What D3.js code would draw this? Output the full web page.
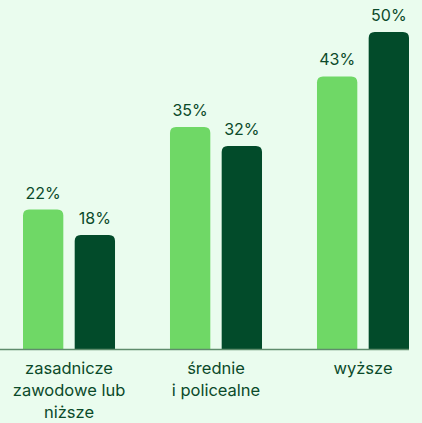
<!DOCTYPE html>
<html>
<head>
<meta charset="utf-8">
<script src="https://cdn.jsdelivr.net/npm/d3@7"></script>
<style>
  body { margin: 0; background: #eafcee; }
  svg { display: block; }
  text { font-family: Inter, 'Liberation Sans', sans-serif; fill: #0b4a2a; }
</style>
</head>
<body>
<div id="chart"></div>
<script>
const categories = [
  ['zasadnicze', 'zawodowe lub', 'niższe'],
  ['średnie', 'i policealne'],
  ['wyższe']
]
const seriesNames = ['a', 'b']
const seriesA = [22, 35, 43]
const seriesB = [18, 32, 50]

const width = 422
const height = 423
const baseY = 349

const svg = d3
  .select('#chart')
  .append('svg')
  .attr('width', width)
  .attr('height', height)

svg.append('rect')
  .attr('width', width)
  .attr('height', height)
  .attr('fill', '#eafcee')

const colorScale = d3.scaleOrdinal()
  .domain(seriesNames)
  .range(['#6fd866', '#024b2a'])

const x0 = d3.scaleBand()
  .domain(d3.range(categories.length))
  .range([23, 409])
  .paddingInner(0.374)
  .paddingOuter(0)

const x1 = d3.scaleBand()
  .domain(seriesNames)
  .range([0, x0.bandwidth()])
  .paddingInner(0.22)

const y = d3.scaleLinear()
  .domain([0, 50])
  .range([baseY, 32])

const rows = categories.map((c, i) => ({
  i: i,
  label: c,
  values: [
    { key: 'a', value: seriesA[i] },
    { key: 'b', value: seriesB[i] }
  ]
}))

// rounded top corners only
function topRounded (x, yTop, w, h, r) {
  return 'M' + x + ',' + (yTop + h) +
    'V' + (yTop + r) +
    'Q' + x + ',' + yTop + ' ' + (x + r) + ',' + yTop +
    'H' + (x + w - r) +
    'Q' + (x + w) + ',' + yTop + ' ' + (x + w) + ',' + (yTop + r) +
    'V' + (yTop + h) + 'Z'
}

const groups = svg.selectAll('.group')
  .data(rows)
  .enter()
  .append('g')
  .attr('class', 'group')
  .attr('transform', d => 'translate(' + x0(d.i) + ',0)')

groups.selectAll('path')
  .data(d => d.values)
  .enter()
  .append('path')
  .attr('d', d => topRounded(x1(d.key), y(d.value), x1.bandwidth(), baseY - y(d.value), 6))
  .attr('fill', d => colorScale(d.key))

groups.selectAll('.value')
  .data(d => d.values)
  .enter()
  .append('text')
  .attr('class', 'value')
  .attr('x', d => x1(d.key) + x1.bandwidth() / 2)
  .attr('y', d => y(d.value) - 11)
  .attr('text-anchor', 'middle')
  .attr('font-size', 16)
  .text(d => d.value + '%')

// baseline
svg.append('line')
  .attr('x1', 0)
  .attr('x2', x0(2) + x0.bandwidth())
  .attr('y1', baseY + 0.5)
  .attr('y2', baseY + 0.5)
  .attr('stroke', '#5f8c6c')
  .attr('stroke-width', 1.5)

// category labels
groups.each(function (d) {
  const t = d3.select(this)
    .append('text')
    .attr('text-anchor', 'middle')
    .attr('font-size', 16.5)
  d.label.forEach((line, j) => {
    t.append('tspan')
      .attr('x', x0.bandwidth() / 2)
      .attr('y', 374 + j * 22)
      .text(line)
  })
})
</script>
</body>
</html>
